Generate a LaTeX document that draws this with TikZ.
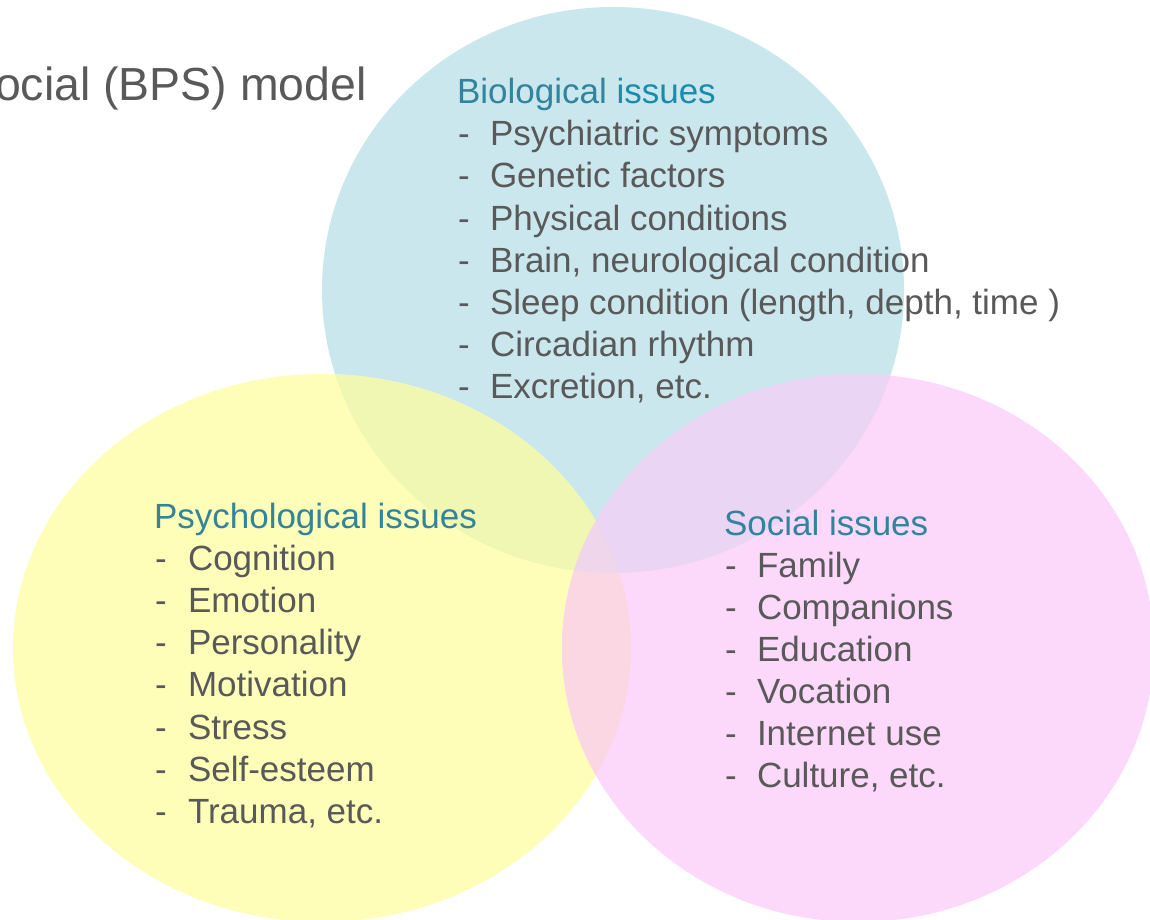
\documentclass[tikz,border=0pt]{standalone}
\usepackage{fontspec}
\setmainfont{Liberation Sans}
\definecolor{cblue}{HTML}{CAE7EE}
\definecolor{cyellow}{HTML}{FEFEB9}
\definecolor{cpink}{HTML}{FCD9FB}
\definecolor{cby}{HTML}{EFF7B3}
\definecolor{cbp}{HTML}{EBD5F4}
\definecolor{cyp}{HTML}{FAD7E3}
\definecolor{cbyp}{HTML}{F0D6EA}
\definecolor{cgray}{HTML}{595959}
\definecolor{cteal}{HTML}{31849B}
\definecolor{cteali}{HTML}{1A8BAA}
\tikzset{
  itemtext/.style={anchor=base west, inner sep=0pt, outer sep=0pt, text=cgray, font=\fontsize{35}{42}\selectfont},
  headtext/.style={itemtext, text=cteal},
}
\begin{document}
\begin{tikzpicture}[x=1pt, y=-1pt]
\useasboundingbox (0,0) rectangle (1150,920);
\clip (0,0) rectangle (1150,920);
\fill[white] (0,0) rectangle (1150,920);
% circles
\fill[cblue] (613,290) ellipse [x radius=291, y radius=283];
\fill[cyellow] (322,648) ellipse [x radius=309, y radius=274];
\fill[cpink] (858,648) ellipse [x radius=296, y radius=274];
\begin{scope}
  \clip (322,648) ellipse [x radius=309, y radius=274];
  \fill[cyp] (858,648) ellipse [x radius=296, y radius=274];
\end{scope}
\begin{scope}
  \clip (613,290) ellipse [x radius=291, y radius=283];
  \fill[cby] (322,648) ellipse [x radius=309, y radius=274];
  \fill[cbp] (858,648) ellipse [x radius=296, y radius=274];
  \clip (322,648) ellipse [x radius=309, y radius=274];
  \fill[cbyp] (858,648) ellipse [x radius=296, y radius=274];
\end{scope}
% title
\node[anchor=base west, inner sep=0pt, text=cgray, font=\fontsize{46.4}{52}\selectfont] (title) at (-5,101) {ocial (BPS) model};
% biological
\node[headtext] (bhead) at (457,104) {Biological \textcolor{cteali}{issues}};
\foreach \t [count=\i] in {Psychiatric symptoms, Genetic factors, Physical conditions, {Brain, neurological condition}, {Sleep condition (length, depth, time )}, Circadian rhythm, {Excretion, etc.}} {
  \node[itemtext] (bdash\i) at (458,{104+42*\i}) {-};
  \node[itemtext] (bitem\i) at (490,{104+42*\i}) {\t};
}
% psychological
\node[headtext] (phead) at (154,528) {Psychological issues};
\foreach \t [count=\i] in {Cognition, Emotion, Personality, Motivation, Stress, Self-esteem, {Trauma, etc.}} {
  \node[itemtext] (pdash\i) at (155,{528+42.2*\i}) {-};
  \node[itemtext] (pitem\i) at (188,{528+42.2*\i}) {\t};
}
% social
\node[headtext] (shead) at (724,535) {Social issues};
\foreach \t [count=\i] in {Family, Companions, Education, Vocation, Internet use, {Culture, etc.}} {
  \node[itemtext] (sdash\i) at (725,{535+42*\i}) {-};
  \node[itemtext] (sitem\i) at (757,{535+42*\i}) {\t};
}
\end{tikzpicture}
\end{document}
